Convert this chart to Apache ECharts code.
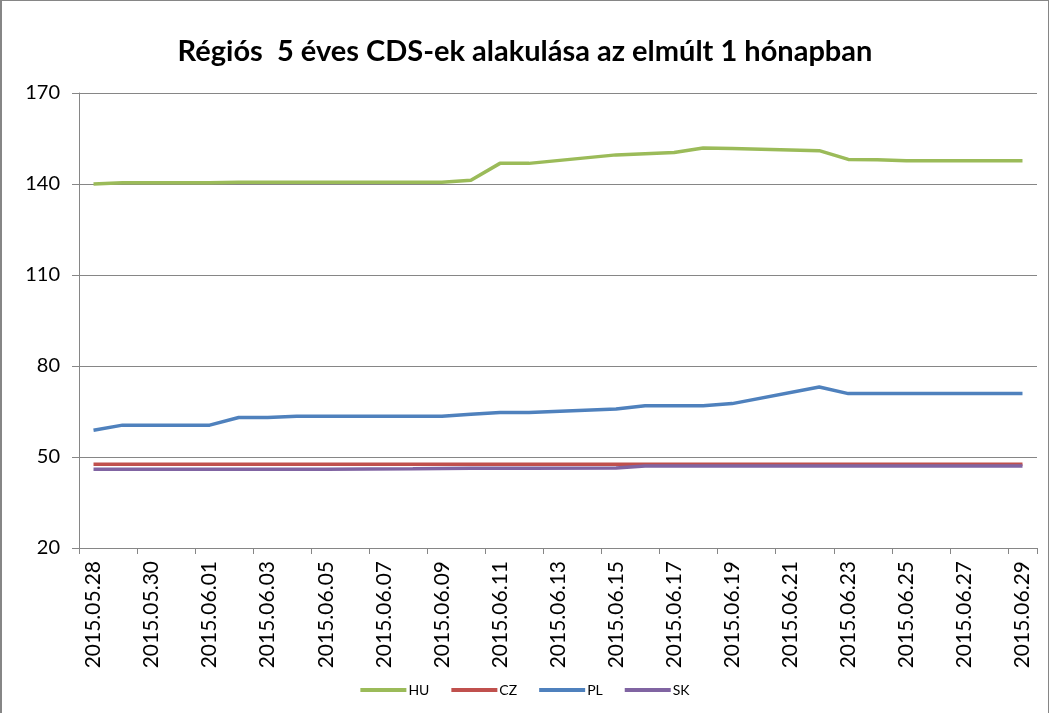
<!DOCTYPE html>
<html>
<head>
<meta charset="utf-8">
<script src="https://cdn.jsdelivr.net/npm/echarts@6/dist/echarts.min.js"></script>
<style>
    html, body { margin: 0; padding: 0; background: #fff; }
    #chart {
        width: 1049px;
        height: 713px;
        box-sizing: border-box;
        border-left: 2px solid #868686;
        border-top: 1px solid #868686;
        border-right: 1px solid #868686;
    }
</style>
</head>
<body>
<div id="chart"></div>
<script>
// daily categories, weekends have no quote (null, lines connected across)
const dates = [
    '2015.05.28', '2015.05.29', '2015.05.30', '2015.05.31', '2015.06.01', '2015.06.02', '2015.06.03',
    '2015.06.04', '2015.06.05', '2015.06.06', '2015.06.07', '2015.06.08', '2015.06.09', '2015.06.10',
    '2015.06.11', '2015.06.12', '2015.06.13', '2015.06.14', '2015.06.15', '2015.06.16', '2015.06.17',
    '2015.06.18', '2015.06.19', '2015.06.20', '2015.06.21', '2015.06.22', '2015.06.23', '2015.06.24',
    '2015.06.25', '2015.06.26', '2015.06.27', '2015.06.28', '2015.06.29'
];

const hu = [140.0, 140.4, null, null, 140.4, 140.6, 140.6, 140.6, 140.6, null, null, 140.6, 140.6, 141.2,
    146.8, 146.8, null, null, 149.6, 150.0, 150.4, 151.9, 151.7, null, null, 151.0, 148.1, 148.0,
    147.7, 147.7, null, null, 147.7];
const cz = [47.6, 47.6, null, null, 47.6, 47.6, 47.6, 47.6, 47.6, null, null, 47.6, 47.6, 47.6,
    47.6, 47.6, null, null, 47.6, 47.6, 47.6, 47.6, 47.6, null, null, 47.6, 47.6, 47.6,
    47.6, 47.6, null, null, 47.6];
const pl = [58.8, 60.5, null, null, 60.5, 63.0, 63.0, 63.4, 63.4, null, null, 63.4, 63.4, 64.1,
    64.7, 64.7, null, null, 65.8, 66.9, 66.9, 66.9, 67.6, null, null, 73.1, 70.9, 70.9,
    70.9, 70.9, null, null, 70.9];
const sk = [46.0, 46.0, null, null, 46.0, 46.0, 46.0, 46.0, 46.0, null, null, 46.1, 46.2, 46.3,
    46.3, 46.3, null, null, 46.4, 47.0, 47.0, 47.0, 47.0, null, null, 47.0, 47.0, 47.0,
    47.0, 47.0, null, null, 47.0];

const yMin = 20;
const yMax = 170;
const yStep = 30;

const chart = echarts.init(document.getElementById('chart'));

function line(name, data, color) {
    return {
        name: name,
        type: 'line',
        data: data,
        connectNulls: true,
        showSymbol: false,
        symbol: 'none',
        lineStyle: { width: 3.5, color: color },
        itemStyle: { color: color }
    };
}

const option = {
    animation: false,
    backgroundColor: '#fff',
    title: {
        text: 'Régiós  5 éves CDS-ek alakulása az elmúlt 1 hónapban',
        left: 'center',
        top: 31,
        textStyle: {
            fontFamily: 'Lato',
            fontWeight: 'bold',
            fontSize: 29,
            color: '#000'
        }
    },
    legend: {
        bottom: 11,
        left: 'center',
        icon: 'rect',
        itemWidth: 46,
        itemHeight: 4,
        itemGap: 22,
        textStyle: { fontFamily: 'Lato', fontSize: 14, color: '#000', padding: [0, 0, 0, -3] },
        data: ['HU', 'CZ', 'PL', 'SK']
    },
    grid: {
        left: 77,
        right: 11,
        top: 92,
        bottom: 165,
        containLabel: false
    },
    xAxis: {
        type: 'category',
        data: dates,
        boundaryGap: true,
        axisLine: { lineStyle: { color: '#868686', width: 1 } },
        axisTick: {
            show: true,
            interval: 1,
            alignWithLabel: false,
            length: 6,
            lineStyle: { color: '#868686' }
        },
        axisLabel: {
            interval: 1,
            rotate: 90,
            margin: 13,
            fontFamily: 'Lato',
            fontSize: 21,
            color: '#000'
        },
        splitLine: { show: false }
    },
    yAxis: {
        type: 'value',
        min: yMin,
        max: yMax,
        interval: yStep,
        axisLine: { show: true, lineStyle: { color: '#868686', width: 1 } },
        axisTick: { show: true, length: 7, lineStyle: { color: '#868686' } },
        axisLabel: {
            margin: 19,
            fontFamily: 'Lato',
            fontSize: 20,
            color: '#000'
        },
        splitLine: { show: true, lineStyle: { color: '#868686', width: 1 } }
    },
    series: [
        line('HU', hu, '#9bbb59'),
        line('CZ', cz, '#c0504d'),
        line('PL', pl, '#4f81bd'),
        line('SK', sk, '#8064a2')
    ]
};

chart.setOption(option);
</script>
</body>
</html>
